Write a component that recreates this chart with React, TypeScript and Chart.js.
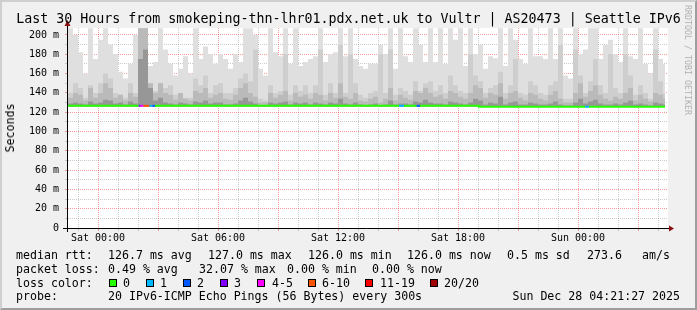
import React, { useEffect, useRef } from "react";
import { Chart, registerables } from "chart.js";

Chart.register(...registerables);

// ---------- text ----------
const TITLE = "Last 30 Hours from smokeping-thn-lhr01.pdx.net.uk to Vultr | AS20473 | Seattle IPv6";
const Y_AXIS_TITLE = "Seconds";
const WATERMARK = "RRDTOOL / TOBI OETIKER";

// ---------- axes (hours since Fri 22:30) ----------
const AXIS_START_HOUR = 0;
const AXIS_END_HOUR = 30;
const Y_MIN = 0;
const Y_MAX = 207.25;
const xLabelHours = [1.5, 7.5, 13.5, 19.5, 25.5];
const xLabels = ["Sat 00:00", "Sat 06:00", "Sat 12:00", "Sat 18:00", "Sun 00:00"];
const yLabelValues = [0, 20, 40, 60, 80, 100, 120, 140, 160, 180, 200];
const yLabels = ["0", "20 m", "40 m", "60 m", "80 m", "100 m", "120 m", "140 m", "160 m", "180 m", "200 m"];

// ---------- smoke (15 minute slots, ms) ----------
const SLOT_HOURS = 0.25;
const DATA_END_HOUR = 29.85;
const SMOKE_BASE = 126;
const smokeMax = [
  207, 200, 182, 160, 207, 175, 195, 207, 190, 180, 162, 155, 170, 200, 207, 207, 168, 172, 207, 185, 170, 158, 165, 178,
  160, 207, 175, 188, 180, 170, 180, 175, 165, 180, 172, 207, 207, 200, 165, 158, 207, 182, 178, 207, 170, 207, 168, 172,
  175, 178, 207, 172, 180, 182, 207, 178, 207, 175, 168, 165, 170, 170, 190, 180, 207, 165, 207, 178, 172, 207, 190, 172,
  207, 172, 207, 170, 207, 195, 207, 168, 207, 180, 190, 165, 178, 176, 207, 168, 207, 195, 175, 170, 207, 178, 178, 175,
  207, 175, 207, 158, 155, 207, 180, 185, 207, 207, 175, 190, 195, 180, 172, 207, 178, 175, 207, 170, 160, 207, 175, 170,
];
const smokeUpper = [
  140, 150, 145, 135, 148, 140, 150, 160, 155, 140, 138, 135, 150, 140, 207, 207, 150, 142, 150, 145, 148, 138, 140, 135,
  135, 155, 148, 158, 140, 148, 150, 140, 140, 145, 155, 160, 152, 185, 134, 132, 148, 140, 142, 180, 138, 148, 142, 148,
  140, 148, 185, 138, 150, 140, 190, 140, 180, 150, 138, 135, 140, 142, 180, 140, 185, 138, 145, 142, 138, 152, 142, 150,
  152, 142, 148, 140, 158, 148, 142, 140, 180, 158, 152, 140, 145, 148, 162, 140, 148, 175, 140, 138, 152, 148, 140, 138,
  148, 152, 190, 134, 134, 185, 158, 140, 152, 175, 148, 140, 180, 145, 140, 180, 158, 138, 148, 140, 134, 185, 152, 140,
];
const smokeMid = [
  135, 140, 138, 132, 145, 135, 140, 150, 145, 135, 138, 132, 140, 136, 207, 207, 150, 140, 150, 140, 138, 133, 140, 134,
  132, 142, 140, 145, 135, 138, 140, 134, 133, 138, 145, 150, 140, 136, 130, 130, 140, 135, 138, 142, 132, 140, 136, 138,
  134, 140, 138, 132, 140, 135, 150, 136, 134, 140, 132, 131, 134, 136, 130, 134, 145, 132, 138, 135, 133, 142, 140, 145,
  140, 136, 138, 134, 142, 140, 136, 134, 140, 148, 145, 135, 140, 138, 150, 134, 140, 142, 135, 132, 140, 138, 134, 132,
  138, 142, 134, 130, 130, 140, 150, 136, 142, 148, 138, 134, 132, 136, 134, 140, 145, 132, 138, 134, 131, 140, 138, 134,
];
const smokeLow = [
  129, 130, 129, 128, 131, 129, 130, 133, 132, 129, 130, 128, 131, 129, 175, 185, 145, 132, 135, 130, 129, 128, 130, 129,
  128, 131, 130, 132, 129, 130, 130, 128, 128, 129, 132, 135, 131, 129, 127, 127, 130, 129, 130, 131, 128, 130, 129, 130,
  128, 130, 129, 128, 130, 129, 134, 129, 128, 130, 128, 127, 128, 129, 127, 128, 132, 128, 129, 129, 128, 131, 130, 133,
  130, 129, 129, 128, 131, 130, 129, 128, 130, 134, 132, 128, 130, 129, 136, 128, 130, 131, 128, 128, 130, 129, 128, 128,
  129, 131, 128, 127, 127, 130, 134, 129, 131, 133, 129, 128, 128, 129, 128, 130, 132, 128, 129, 128, 127, 130, 129, 128,
];

// ---------- median rtt line with packet loss ----------
const medianHours = [0, 3.535, 3.625, 3.775, 4.075, 4.225, 4.35, 16.55, 16.8, 17.43, 17.6, 20.55, 25.85, 26.05, 29.85];
const medianValues = [126.6, 126.6, 126.6, 126.6, 126.6, 126.6, 126.6, 126.6, 126.6, 126.6, 126.6, 125.6, 125.6, 125.6, 125.6];
const lossCounts = [0, 3, 5, 8, 1, 2, 0, 1, 0, 2, 0, 0, 1, 0, 0];

const lossLabels = ["0", "1", "2", "3", "4-5", "6-10", "11-19", "20/20"];
const lossUpper = [0, 1, 2, 3, 5, 10, 19, 20];
const lossColors = ["#26ff00", "#00b8ff", "#0059ff", "#7e00ff", "#ff00ff", "#ff5500", "#ff0000", "#a00000"];

// ---------- legend text ----------
const rttRow = ["median rtt:", "126.7 ms avg", "127.0 ms max", "126.0 ms min", "126.0 ms now", "0.5 ms sd", "273.6", "am/s"];
const lossRow = ["packet loss:", "0.49 % avg", "32.07 % max", "0.00 % min", "0.00 % now"];
const lossColorTitle = "loss color:";
const probeRow = ["probe:", "20 IPv6-ICMP Echo Pings (56 Bytes) every 300s"];
const timestamp = "Sun Dec 28 04:21:27 2025";

// ---------- layout (pixels) ----------
const rttX = [16, 108, 208, 308, 407, 507, 587, 642];
const lossX = [16, 108, 199, 287, 372];
const swatchX = [109, 146, 183, 220, 257, 308, 365, 430];
const swatchLabelX = [123, 160, 197, 234, 272, 322, 380, 444];
const probeX = [16, 108];
const rowY = [255, 268.5, 282.5, 296];

const MONO = '"DejaVu Sans Mono", "Liberation Mono", monospace';
const GRID_MAJOR = "rgba(235, 60, 60, 0.5)";
const GRID_MINOR = "rgba(140, 140, 140, 0.45)";

function lossColor(n: number): string {
  for (let i = 0; i < lossUpper.length; i++) if (n <= lossUpper[i]) return lossColors[i];
  return lossColors[lossColors.length - 1];
}

function slotPoints(values: number[]) {
  const pts = values.map((v, i) => ({ x: AXIS_START_HOUR + i * SLOT_HOURS, y: v }));
  pts.push({ x: DATA_END_HOUR, y: values[values.length - 1] });
  return pts;
}

const near = (a: number, b: number) => Math.abs(a - b) < 1e-6;
const isMajorHour = (h: number) => {
  const r = (((h - 1.5) % 3) + 3) % 3;
  return near(r, 0) || near(r, 3);
};

const plotFramePlugin = {
  id: "plotFrame",
  beforeDraw(chart: any) {
    const { ctx, chartArea: a } = chart;
    ctx.save();
    ctx.fillStyle = "#ffffff";
    ctx.fillRect(a.left, a.top, a.right - a.left, a.bottom - a.top);
    ctx.restore();
  },
  afterDraw(chart: any) {
    const { ctx, chartArea: a } = chart;
    ctx.save();
    ctx.strokeStyle = "#000000";
    ctx.lineWidth = 1;
    ctx.beginPath();
    ctx.moveTo(a.left - 5, a.bottom + 0.5);
    ctx.lineTo(a.right + 2, a.bottom + 0.5);
    ctx.moveTo(a.left - 0.5, a.bottom + 4);
    ctx.lineTo(a.left - 0.5, a.top - 3);
    ctx.stroke();
    ctx.fillStyle = "#8b1010";
    ctx.beginPath();
    ctx.moveTo(a.left - 0.5, a.top - 8);
    ctx.lineTo(a.left - 3.5, a.top - 2);
    ctx.lineTo(a.left + 2.5, a.top - 2);
    ctx.closePath();
    ctx.fill();
    ctx.beginPath();
    ctx.moveTo(a.right + 6, a.bottom + 0.5);
    ctx.lineTo(a.right + 1, a.bottom - 2.5);
    ctx.lineTo(a.right + 1, a.bottom + 3.5);
    ctx.closePath();
    ctx.fill();
    ctx.restore();
  },
};

function smokeDataset(values: number[], color: string) {
  return {
    data: slotPoints(values),
    stepped: true,
    borderWidth: 0,
    borderColor: color,
    backgroundColor: color,
    pointRadius: 0,
    fill: { value: SMOKE_BASE },
  };
}

export default function App() {
  const canvasRef = useRef<HTMLCanvasElement>(null);

  useEffect(() => {
    const medianPoints = medianHours.map((h, i) => ({ x: h, y: medianValues[i] }));
    const chart = new Chart(canvasRef.current as HTMLCanvasElement, {
      type: "line",
      data: {
        datasets: [
          {
            data: medianPoints,
            stepped: true,
            borderWidth: 2,
            borderColor: lossColors[0],
            pointRadius: 0,
            fill: false,
            segment: {
              borderColor: (ctx: any) => lossColor(lossCounts[ctx.p0DataIndex]),
            },
          } as any,
          smokeDataset(smokeLow, "#979797"),
          smokeDataset(smokeMid, "#bababa"),
          smokeDataset(smokeUpper, "#cecece"),
          smokeDataset(smokeMax, "#dfdfdf"),
        ],
      },
      options: {
        animation: false,
        responsive: false,
        maintainAspectRatio: false,
        events: [],
        layout: { padding: { left: 0, right: 29, top: 28, bottom: 0 } },
        plugins: { legend: { display: false }, tooltip: { enabled: false }, title: { display: false } },
        scales: {
          x: {
            type: "linear",
            min: AXIS_START_HOUR,
            max: AXIS_END_HOUR,
            z: 1,
            afterBuildTicks: (scale: any) => {
              const t: any[] = [];
              for (let h = AXIS_START_HOUR + 0.5; h < AXIS_END_HOUR; h += 1) t.push({ value: h });
              scale.ticks = t;
            },
            afterFit: (scale: any) => {
              scale.height = 22;
            },
            grid: {
              color: (ctx: any) => (ctx.tick && isMajorHour(ctx.tick.value) ? GRID_MAJOR : GRID_MINOR),
              borderDash: [1, 1],
              tickLength: 3,
              tickBorderDash: [],
              drawTicks: true,
            } as any,
            border: { display: false, dash: [1, 1] } as any,
            ticks: {
              autoSkip: false,
              maxRotation: 0,
              padding: 1,
              color: "#000",
              font: { family: MONO, size: 10 },
              callback: (v: any) => {
                const i = xLabelHours.findIndex((h) => near(h, Number(v)));
                return i >= 0 ? xLabels[i] : "";
              },
            },
          },
          y: {
            type: "linear",
            min: Y_MIN,
            max: Y_MAX,
            z: 1,
            afterBuildTicks: (scale: any) => {
              const t: any[] = [];
              for (let v = 0; v <= 200; v += 10) t.push({ value: v });
              scale.ticks = t;
            },
            afterFit: (scale: any) => {
              scale.width = 68;
            },
            grid: {
              color: (ctx: any) => (ctx.tick && ctx.tick.value % 20 === 0 ? GRID_MAJOR : GRID_MINOR),
              borderDash: [1, 1],
              tickLength: 3,
              tickBorderDash: [],
              drawTicks: true,
            } as any,
            border: { display: false, dash: [1, 1] } as any,
            ticks: {
              autoSkip: false,
              padding: 6,
              color: "#000",
              font: { family: MONO, size: 10 },
              callback: (v: any) => {
                const i = yLabelValues.findIndex((y) => near(y, Number(v)));
                return i >= 0 ? yLabels[i] : "";
              },
            },
          },
        },
      },
      plugins: [plotFramePlugin],
    } as any);
    return () => chart.destroy();
  }, []);

  const text = (s: string, x: number, y: number, key: string, extra: any = {}) => (
    <div
      key={key}
      style={{
        position: "absolute",
        left: x,
        top: y - 7,
        lineHeight: "14px",
        height: 14,
        fontSize: "11.6px",
        whiteSpace: "pre",
        ...extra,
      }}
    >
      {s}
    </div>
  );

  return (
    <div
      style={{
        position: "absolute",
        left: 0,
        top: 0,
        width: 697,
        height: 310,
        background: "#f0f0f0",
        fontFamily: MONO,
        color: "#000",
        overflow: "hidden",
      }}
    >
      <div
        style={{
          position: "absolute",
          left: 0,
          top: 0,
          width: 697,
          height: 310,
          boxSizing: "border-box",
          borderTop: "2px solid #cfcfcf",
          borderLeft: "2px solid #cfcfcf",
          borderRight: "2px solid #9e9e9e",
          borderBottom: "2px solid #9e9e9e",
        }}
      />
      <canvas
        ref={canvasRef}
        width={697}
        height={250}
        style={{ position: "absolute", left: 0, top: 0, width: 697, height: 250 }}
      />
      <div
        style={{
          position: "absolute",
          left: 0,
          top: 11,
          width: 697,
          textAlign: "center",
          fontSize: "13.3px",
          lineHeight: "16px",
          whiteSpace: "pre",
        }}
      >
        {TITLE}
      </div>
      <div
        style={{
          position: "absolute",
          left: 10,
          top: 128,
          fontSize: "11.6px",
          lineHeight: "14px",
          whiteSpace: "pre",
          transform: "translate(-50%, -50%) rotate(-90deg)",
        }}
      >
        {Y_AXIS_TITLE}
      </div>
      <div
        style={{
          position: "absolute",
          left: 688,
          top: 60,
          fontSize: "8.3px",
          lineHeight: "10px",
          color: "#b0b0b0",
          whiteSpace: "pre",
          transform: "translate(-50%, -50%) rotate(90deg)",
        }}
      >
        {WATERMARK}
      </div>
      {rttRow.map((s, i) => text(s, rttX[i], rowY[0], "r" + i))}
      {lossRow.map((s, i) => text(s, lossX[i], rowY[1], "l" + i))}
      {text(lossColorTitle, 16, rowY[2], "lc")}
      {lossLabels.map((s, i) => (
        <React.Fragment key={"sw" + i}>
          <div
            style={{
              position: "absolute",
              left: swatchX[i],
              top: rowY[2] - 4,
              width: 6,
              height: 6,
              border: "1px solid #000",
              background: lossColors[i],
            }}
          />
          {text(s, swatchLabelX[i], rowY[2], "sl" + i)}
        </React.Fragment>
      ))}
      {probeRow.map((s, i) => text(s, probeX[i], rowY[3], "p" + i))}
      {text(timestamp, 0, rowY[3], "ts", { left: "auto", right: 17 })}
    </div>
  );
}
